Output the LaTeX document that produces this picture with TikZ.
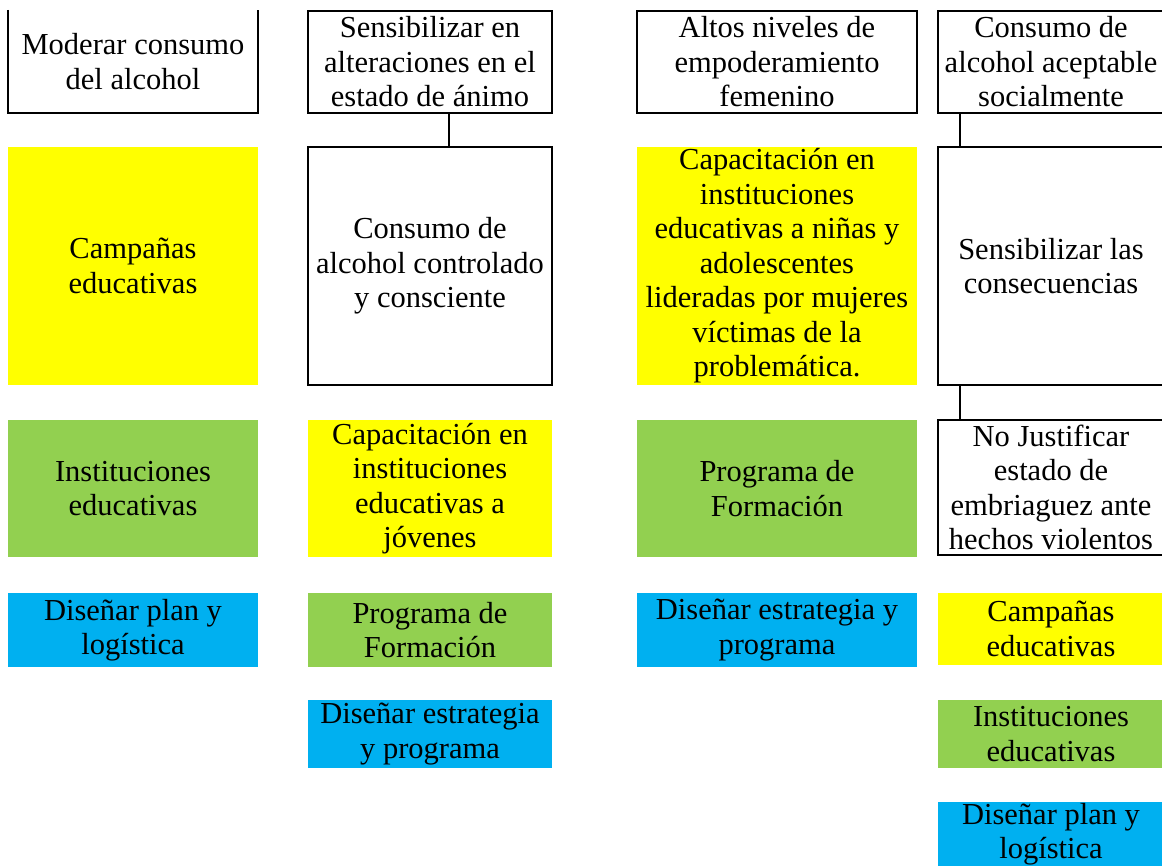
\documentclass[tikz,border=0pt]{standalone}
\usepackage{fontspec}
\setmainfont{Liberation Serif}
\definecolor{cyel}{HTML}{FFFF00}
\definecolor{cgrn}{HTML}{92D050}
\definecolor{cblu}{HTML}{00B0F0}
\begin{document}
\begin{tikzpicture}[x=1pt,y=-1pt,
  base/.style={inner sep=0pt, outer sep=0pt, align=center, anchor=center,
    font=\fontsize{30.5}{34.5}\selectfont},
  wbox/.style={base, draw=black, line width=1.8pt},
  ybox/.style={base, fill=cyel},
  gbox/.style={base, fill=cgrn},
  bbox/.style={base, fill=cblu},
  conn/.style={line width=1.8pt},
  c1/.style={minimum width=250pt},
  c2/.style={minimum width=244pt},
  c3/.style={minimum width=280pt},
  c4/.style={minimum width=226pt},
]
\useasboundingbox (0,0) rectangle (1162,866);

% Column 1
\node[base,c1,minimum height=103pt] (a1) at (133,61.5) {Moderar consumo\\del alcohol};
\draw[conn] (a1.north west) -- (a1.south west) -- (a1.south east) -- (a1.north east);
\node[ybox,c1,minimum height=238pt] (b1) at (133,266) {Campañas\\educativas};
\node[gbox,c1,minimum height=137pt] (c1n) at (133,488.5) {Instituciones\\educativas};
\node[bbox,c1,minimum height=74pt] (d1) at (133,630) {Diseñar plan y\\logística};

% Column 2
\node[wbox,c2,minimum height=102pt] (a2) at (430,62) {Sensibilizar en\\alteraciones en el\\estado de ánimo};
\node[wbox,c2,minimum height=238pt] (b2) at (430,266) {Consumo de\\alcohol controlado\\y consciente};
\node[ybox,c2,minimum height=137pt] (c2n) at (430,488.5) {Capacitación en\\instituciones\\educativas a\\jóvenes};
\node[gbox,c2,minimum height=74pt] (d2) at (430,630) {Programa de\\Formación};
\node[bbox,c2,minimum height=68pt] (e2) at (430,734) {Diseñar estrategia\\y programa};
\draw[conn] ([xshift=19pt]a2.south) -- ([xshift=19pt]b2.north);

% Column 3
\node[wbox,c3,minimum height=102pt] (a3) at (777,62) {Altos niveles de\\empoderamiento\\femenino};
\node[ybox,c3,minimum height=238pt] (b3) at (777,266) {Capacitación en\\instituciones\\educativas a niñas y\\adolescentes\\lideradas por mujeres\\víctimas de la\\problemática.};
\node[gbox,c3,minimum height=137pt] (c3n) at (777,488.5) {Programa de\\Formación};
\node[bbox,c3,minimum height=74pt] (d3) at (777,630) {Diseñar estrategia y\\programa};

% Column 4
\node[wbox,c4,minimum height=102pt] (a4) at (1051,62) {Consumo de\\alcohol aceptable\\socialmente};
\node[wbox,c4,minimum height=238pt] (b4) at (1051,266) {Sensibilizar las\\consecuencias};
\node[wbox,c4,minimum height=135pt] (c4n) at (1051,487.5) {No Justificar\\estado de\\embriaguez ante\\hechos violentos};
\node[ybox,c4,minimum height=72pt] (d4) at (1051,629) {Campañas\\educativas};
\node[gbox,c4,minimum height=68pt] (e4) at (1051,734) {Instituciones\\educativas};
\node[bbox,c4,minimum height=64pt] (f4) at (1051,834) {Diseñar plan y\\logística};
\draw[conn] ([xshift=22pt]a4.south west) -- ([xshift=22pt]b4.north west);
\draw[conn] ([xshift=22pt]b4.south west) -- ([xshift=22pt]c4n.north west);
\end{tikzpicture}
\end{document}
